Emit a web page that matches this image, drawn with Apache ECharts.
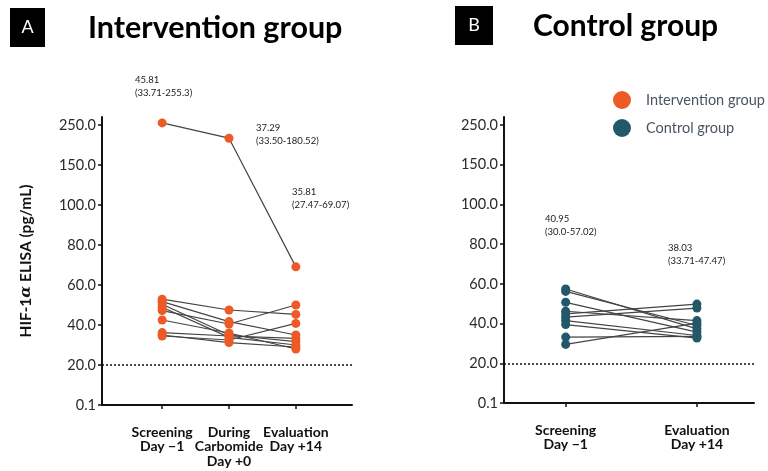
<!DOCTYPE html>
<html><head><meta charset="utf-8">
<script src="https://cdn.jsdelivr.net/npm/echarts@6/dist/echarts.min.js"></script>
<style>html,body{margin:0;padding:0;background:#fff}#c{width:768px;height:471px}</style>
</head><body><div id="c"></div>
<script>
// Tick labels of the segmented y axis (evenly spaced in the figure)
const yTicks = [0.1, 20, 40, 60, 80, 100, 150, 250];
const interventionCats = ['Screening\nDay \u22121', 'During\nCarbomide\nDay +0', 'Evaluation\nDay +14'];
const controlCats = ['Screening\nDay \u22121', 'Evaluation\nDay +14'];
// Intervention group patients: [screening, during, evaluation] (pg/mL)
const interventionScreening = [255.3, 52.9, 51.7, 50.4, 48.9, 47.2, 42.5, 36.2, 34.5, 35.0];
const interventionDuring    = [217.0, 47.5, 41.7, 35.0, 33.8, 40.5, 36.0, 34.5, 32.5, 31.2];
const interventionEval      = [69.07, 45.3, 35.0, 31.7, 30.0, 50.0, 28.0, 33.3, 40.8, 29.0];
// Control group patients: [screening, evaluation]
const controlScreening = [57.4, 56.2, 50.7, 46.2, 44.9, 43.2, 41.5, 39.5, 33.2, 29.5];
const controlEval      = [37.3, 39.0, 35.7, 41.5, 49.8, 47.8, 34.0, 32.7, 33.5, 40.2];
const intAnnot = [['45.81', '(33.71-255.3)'], ['37.29', '(33.50-180.52)'], ['35.81', '(27.47-69.07)']];
const ctlAnnot = [['40.95', '(30.0-57.02)'], ['38.03', '(33.71-47.47)']];
const lloq = 20;

const ORANGE = '#ee5a26', TEAL = '#23586a';
function toIdx(v) {
  for (let i = 0; i < yTicks.length - 1; i++) {
    if (v <= yTicks[i + 1] || i === yTicks.length - 2) {
      return i + (v - yTicks[i]) / (yTicks[i + 1] - yTicks[i]);
    }
  }
}
const FONT = 'Lato';
const chart = echarts.init(document.getElementById('c'));
const series = [];
function yAxisCfg(gi, showName) {
  return {
    gridIndex: gi, type: 'value', min: 0, max: 7.2,
    axisLine: {show: true, onZero: false, lineStyle: {color: '#111', width: 2}},
    axisTick: {show: true, length: 4, lineStyle: {color: '#111', width: 1.5}, customValues: [0,1,2,3,4,5,6,7]},
    axisLabel: {customValues: [0,1,2,3,4,5,6,7], margin: 6, color: '#2a2a2a', fontSize: 14.5, fontFamily: FONT,
      formatter: v => yTicks[Math.round(v)].toFixed(1)},
    splitLine: {show: false},
    name: showName ? '{n|HIF-1}{a|\u03b1}{n| ELISA (pg/mL)}' : '',
    nameLocation: 'middle', nameRotate: 90, nameGap: 68,
    nameTextStyle: {rich: {
      n: {fontSize: 15.5, fontWeight: 'bold', fontFamily: FONT, color: '#111'},
      a: {fontSize: 15.5, fontWeight: 'bold', fontStyle: 'italic', fontFamily: 'DejaVu Serif', color: '#111'}}}
  };
}
function xAxisCfg(gi, cats, min, max) {
  const vals = cats.map((_, i) => i);
  return {
    gridIndex: gi, type: 'value', min: min, max: max,
    axisLine: {show: true, onZero: false, lineStyle: {color: '#111', width: 2}},
    axisTick: {show: true, length: 4, lineStyle: {color: '#111', width: 1.5}, customValues: vals},
    axisLabel: {customValues: vals, margin: 20, color: '#111', fontSize: 14, fontWeight: 'bold', fontFamily: FONT,
      lineHeight: 14.5, formatter: v => cats[Math.round(v)] || ''},
    splitLine: {show: false}
  };
}
function addGroup(name, color, cols, xi) {
  const n = cols[0].length;
  for (let p = 0; p < n; p++) {
    series.push({
      type: 'line', name: name, xAxisIndex: xi, yAxisIndex: xi,
      data: cols.map((c, j) => [j, toIdx(c[p])]),
      symbol: 'circle', symbolSize: 9, showSymbol: true,
      itemStyle: {color: color}, lineStyle: {color: '#444', width: 1.2},
      emphasis: {disabled: true}, animation: false, z: 3
    });
  }
  series.push({
    type: 'line', name: 'lloq' + xi, xAxisIndex: xi, yAxisIndex: xi, data: [], animation: false,
    markLine: {silent: true, symbol: 'none', label: {show: false},
      lineStyle: {color: '#111', type: [2, 2], width: 1.5},
      data: [{yAxis: toIdx(lloq)}]}
  });
}
addGroup('Intervention group', ORANGE, [interventionScreening, interventionDuring, interventionEval], 0);
addGroup('Control group', TEAL, [controlScreening, controlEval], 1);

function annot(list, pos) {
  const out = [];
  list.forEach((a, i) => {
    out.push({type: 'text', left: pos[i][0], top: pos[i][1],
      style: {text: a[0] + '\n' + a[1], fill: '#222', fontSize: 9.5, lineHeight: 13, fontFamily: FONT}});
  });
  return out;
}
const graphics = [
  {type: 'rect', shape: {x: 10, y: 8, width: 35, height: 39}, style: {fill: '#000'}},
  {type: 'text', x: 27.5, y: 27.5, style: {text: 'A', fill: '#fff', fontSize: 18, fontFamily: FONT, align: 'center', verticalAlign: 'middle'}},
  {type: 'text', x: 88, y: 28, style: {text: 'Intervention group', fill: '#000', fontSize: 30.5, fontWeight: 'bold', fontFamily: FONT, verticalAlign: 'middle'}},
  {type: 'rect', shape: {x: 455, y: 6, width: 38, height: 39}, style: {fill: '#000'}},
  {type: 'text', x: 474, y: 25.5, style: {text: 'B', fill: '#fff', fontSize: 18, fontFamily: FONT, align: 'center', verticalAlign: 'middle'}},
  {type: 'text', x: 533, y: 26, style: {text: 'Control group', fill: '#000', fontSize: 30, fontWeight: 'bold', fontFamily: FONT, verticalAlign: 'middle'}}
].concat(annot(intAnnot, [[135, 73], [256, 121], [292, 185]]))
 .concat(annot(ctlAnnot, [[545, 212], [668, 241]]));

chart.setOption({
  animation: false,
  grid: [
    {left: 102, top: 117, width: 250, height: 288},
    {left: 504, top: 117, width: 250, height: 286}
  ],
  xAxis: [xAxisCfg(0, interventionCats, -0.9, 2.84), xAxisCfg(1, controlCats, -0.47, 1.435)],
  yAxis: [yAxisCfg(0, true), yAxisCfg(1, false)],
  legend: {
    left: 608, top: 86, orient: 'vertical', itemGap: 10, itemWidth: 18, itemHeight: 18, icon: 'circle',
    textStyle: {color: '#4a5560', fontSize: 14.5, fontFamily: FONT, padding: [0, 0, 0, 10]},
    data: [{name: 'Intervention group', itemStyle: {color: ORANGE}}, {name: 'Control group', itemStyle: {color: TEAL}}],
    selectedMode: false
  },
  graphic: graphics,
  series: series
});
</script></body></html>
